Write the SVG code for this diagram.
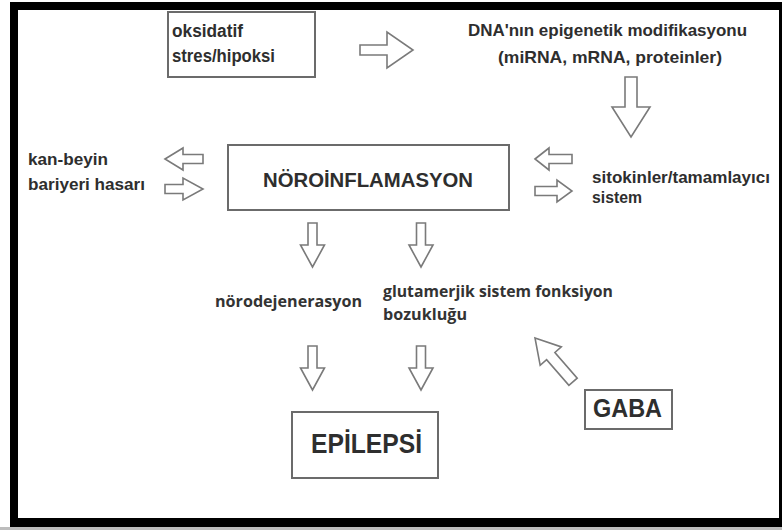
<svg xmlns="http://www.w3.org/2000/svg" width="782" height="530" viewBox="0 0 782 530">
<defs>
<style>
.box{fill:#fff;stroke:#6b6b6b;stroke-width:2}
.arr{fill:#fff;stroke:#7a7a7a;stroke-width:1.6;stroke-linejoin:miter}
.t{font-family:"Liberation Sans",Arial,sans-serif;font-weight:bold;fill:#2e2e2e}
.h{font-family:"Open Sans","Noto Sans",sans-serif;font-weight:bold;fill:#333}
</style>
<path id="dsmall" d="M-4.5,0 H4.5 V22 H12 L0,44 L-12,22 H-4.5 Z"/>
</defs>
<rect x="0" y="0" width="782" height="530" fill="#fff"/>
<rect x="0" y="527" width="782" height="3" fill="#bdbdbd"/>
<rect x="10" y="2" width="772" height="525" fill="#000"/>
<rect x="18" y="10" width="761" height="508" fill="#fff"/>

<g id="connectors">
<path class="arr" d="M360,45 H387 V32 L413,50 L387,68 V55 H360 Z"/>
<path class="arr" d="M625,77 H637 V107 H650 L631,137 L612,107 H625 Z"/>
<path class="arr" d="M165,159 L183,148 V154.5 H203 V163.5 H183 V170 Z"/>
<path class="arr" d="M165,184.5 H183 V178 L203,189 L183,200 V193.5 H165 Z"/>
<path class="arr" d="M535,159 L549,148 V154.5 H572 V163.5 H549 V170 Z"/>
<path class="arr" d="M535,186.5 H557 V180 L572,191 L557,202 V195.5 H535 Z"/>
<use href="#dsmall" class="arr" transform="translate(312.5,223)"/>
<use href="#dsmall" class="arr" transform="translate(421,223)"/>
<use href="#dsmall" class="arr" transform="translate(312.5,346)"/>
<use href="#dsmall" class="arr" transform="translate(421,346)"/>
<path class="arr" transform="translate(535,338) rotate(49)" d="M0,0 L24,-14 V-5.5 H58 V5.5 H24 V14 Z"/>
</g>

<g id="oksidatif">
<rect class="box" x="168" y="12" width="147" height="65"/>
<text class="t" x="172" y="37" font-size="17.5" textLength="71" lengthAdjust="spacingAndGlyphs">oksidatif</text>
<text class="t" x="172" y="62" font-size="17.5" textLength="103" lengthAdjust="spacingAndGlyphs">stres/hipoksi</text>
</g>

<g id="dna">
<text class="t" x="468" y="36" font-size="16.5" textLength="279" lengthAdjust="spacingAndGlyphs">DNA'nın epigenetik modifikasyonu</text>
<text class="t" x="498" y="63" font-size="16.5" textLength="224" lengthAdjust="spacingAndGlyphs">(miRNA, mRNA, proteinler)</text>
</g>

<g id="noroinflamasyon">
<rect class="box" x="228" y="145" width="281" height="65"/>
<text class="t" x="263" y="187" font-size="21" textLength="210" lengthAdjust="spacingAndGlyphs">NÖROİNFLAMASYON</text>
</g>

<g id="kanbeyin">
<text class="t" x="28" y="165" font-size="17" textLength="80" lengthAdjust="spacingAndGlyphs">kan-beyin</text>
<text class="t" x="28" y="190" font-size="17" textLength="117" lengthAdjust="spacingAndGlyphs">bariyeri hasarı</text>
</g>

<g id="sitokinler">
<text class="t" x="592" y="183" font-size="17" textLength="178" lengthAdjust="spacingAndGlyphs">sitokinler/tamamlayıcı</text>
<text class="t" x="592" y="203" font-size="17" textLength="50" lengthAdjust="spacingAndGlyphs">sistem</text>
</g>

<g id="norodejenerasyon">
<text class="h" x="215" y="307" font-size="16" textLength="147" lengthAdjust="spacingAndGlyphs">nörodejenerasyon</text>
</g>

<g id="glutamerjik">
<text class="h" x="383" y="297" font-size="16" textLength="230" lengthAdjust="spacingAndGlyphs">glutamerjik sistem fonksiyon</text>
<text class="h" x="383" y="320" font-size="16" textLength="84" lengthAdjust="spacingAndGlyphs">bozukluğu</text>
</g>

<g id="epilepsi">
<rect class="box" x="292" y="412" width="146" height="66"/>
<text class="t" x="311" y="453" font-size="28" textLength="111" lengthAdjust="spacingAndGlyphs">EPİLEPSİ</text>
</g>

<g id="gaba">
<rect class="box" x="585" y="390" width="87" height="39"/>
<text class="t" x="593" y="417" font-size="26" textLength="69" lengthAdjust="spacingAndGlyphs">GABA</text>
</g>
</svg>
